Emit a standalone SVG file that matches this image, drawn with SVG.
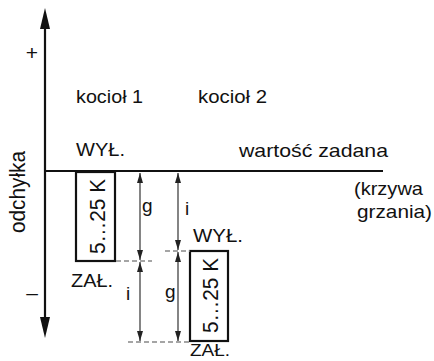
<svg xmlns="http://www.w3.org/2000/svg" width="434" height="361" viewBox="0 0 434 361">
<style>
text{font-family:"Liberation Sans",Arial,Helvetica,sans-serif;font-size:19px;fill:#111}
.rot{font-size:22px}
.box{fill:#fff;stroke:#111;stroke-width:2.2}
.axis{stroke:#111;stroke-width:2.2;fill:none}
.dim{stroke:#333;stroke-width:1.2;fill:none;marker-start:url(#ah);marker-end:url(#ah)}
.dash{stroke:#888;stroke-width:1.5;stroke-dasharray:5 3;fill:none}
</style>
<defs>
<marker id="ah" markerUnits="userSpaceOnUse" markerWidth="10" markerHeight="6" refX="10" refY="3" orient="auto-start-reverse">
<path d="M0,0 L10,3 L0,6 z" fill="#222"/>
</marker>
</defs>
<g id="axes">
<line class="axis" x1="45" y1="26" x2="45" y2="320"/>
<polygon points="45,8 40,29 50,29" fill="#111"/>
<polygon points="45,338 40,317 50,317" fill="#111"/>
<line class="axis" x1="45" y1="171" x2="383" y2="171"/>
<text x="32" y="60" text-anchor="middle" style="font-size:21px">+</text>
<text x="32" y="300" text-anchor="middle" style="font-size:21px">–</text>
<text class="rot" transform="translate(25,233) rotate(-90)" textLength="82" lengthAdjust="spacingAndGlyphs">odchyłka</text>
</g>
<g id="labels">
<text x="76" y="103" textLength="67" lengthAdjust="spacingAndGlyphs">kocioł 1</text>
<text x="198" y="103" textLength="69" lengthAdjust="spacingAndGlyphs">kocioł 2</text>
<text x="76" y="156" textLength="49" lengthAdjust="spacingAndGlyphs">WYŁ.</text>
<text x="239" y="157" textLength="149" lengthAdjust="spacingAndGlyphs">wartość zadana</text>
<text x="354" y="195" textLength="69" lengthAdjust="spacingAndGlyphs">(krzywa</text>
<text x="357" y="218" textLength="75" lengthAdjust="spacingAndGlyphs">grzania)</text>
<text x="71" y="287" textLength="42" lengthAdjust="spacingAndGlyphs">ZAŁ.</text>
<text x="193" y="242" textLength="50" lengthAdjust="spacingAndGlyphs">WYŁ.</text>
<text x="190" y="356" style="font-size:17px" textLength="40" lengthAdjust="spacingAndGlyphs">ZAŁ.</text>
</g>
<g id="box1">
<rect class="box" x="76" y="172" width="39" height="89"/>
<text class="rot" transform="translate(105,254) rotate(-90)" textLength="75" lengthAdjust="spacingAndGlyphs">5…25 K</text>
</g>
<g id="box2">
<rect class="box" x="190" y="251" width="38" height="90"/>
<text class="rot" transform="translate(218,333) rotate(-90)" textLength="75" lengthAdjust="spacingAndGlyphs">5…25 K</text>
</g>
<g id="connectors">
<line class="dash" x1="116" y1="261" x2="152" y2="261"/>
<line class="dash" x1="165" y1="251" x2="190" y2="251"/>
<line class="dash" x1="128" y1="342" x2="190" y2="342"/>
<line class="dim" x1="140" y1="173" x2="140" y2="260"/>
<line class="dim" x1="178" y1="173" x2="178" y2="250"/>
<line class="dim" x1="140" y1="262" x2="140" y2="341"/>
<line class="dim" x1="178" y1="252" x2="178" y2="341"/>
<text x="142" y="212">g</text>
<text x="185" y="215">i</text>
<text x="126" y="300">i</text>
<text x="165" y="298">g</text>
</g>
</svg>
